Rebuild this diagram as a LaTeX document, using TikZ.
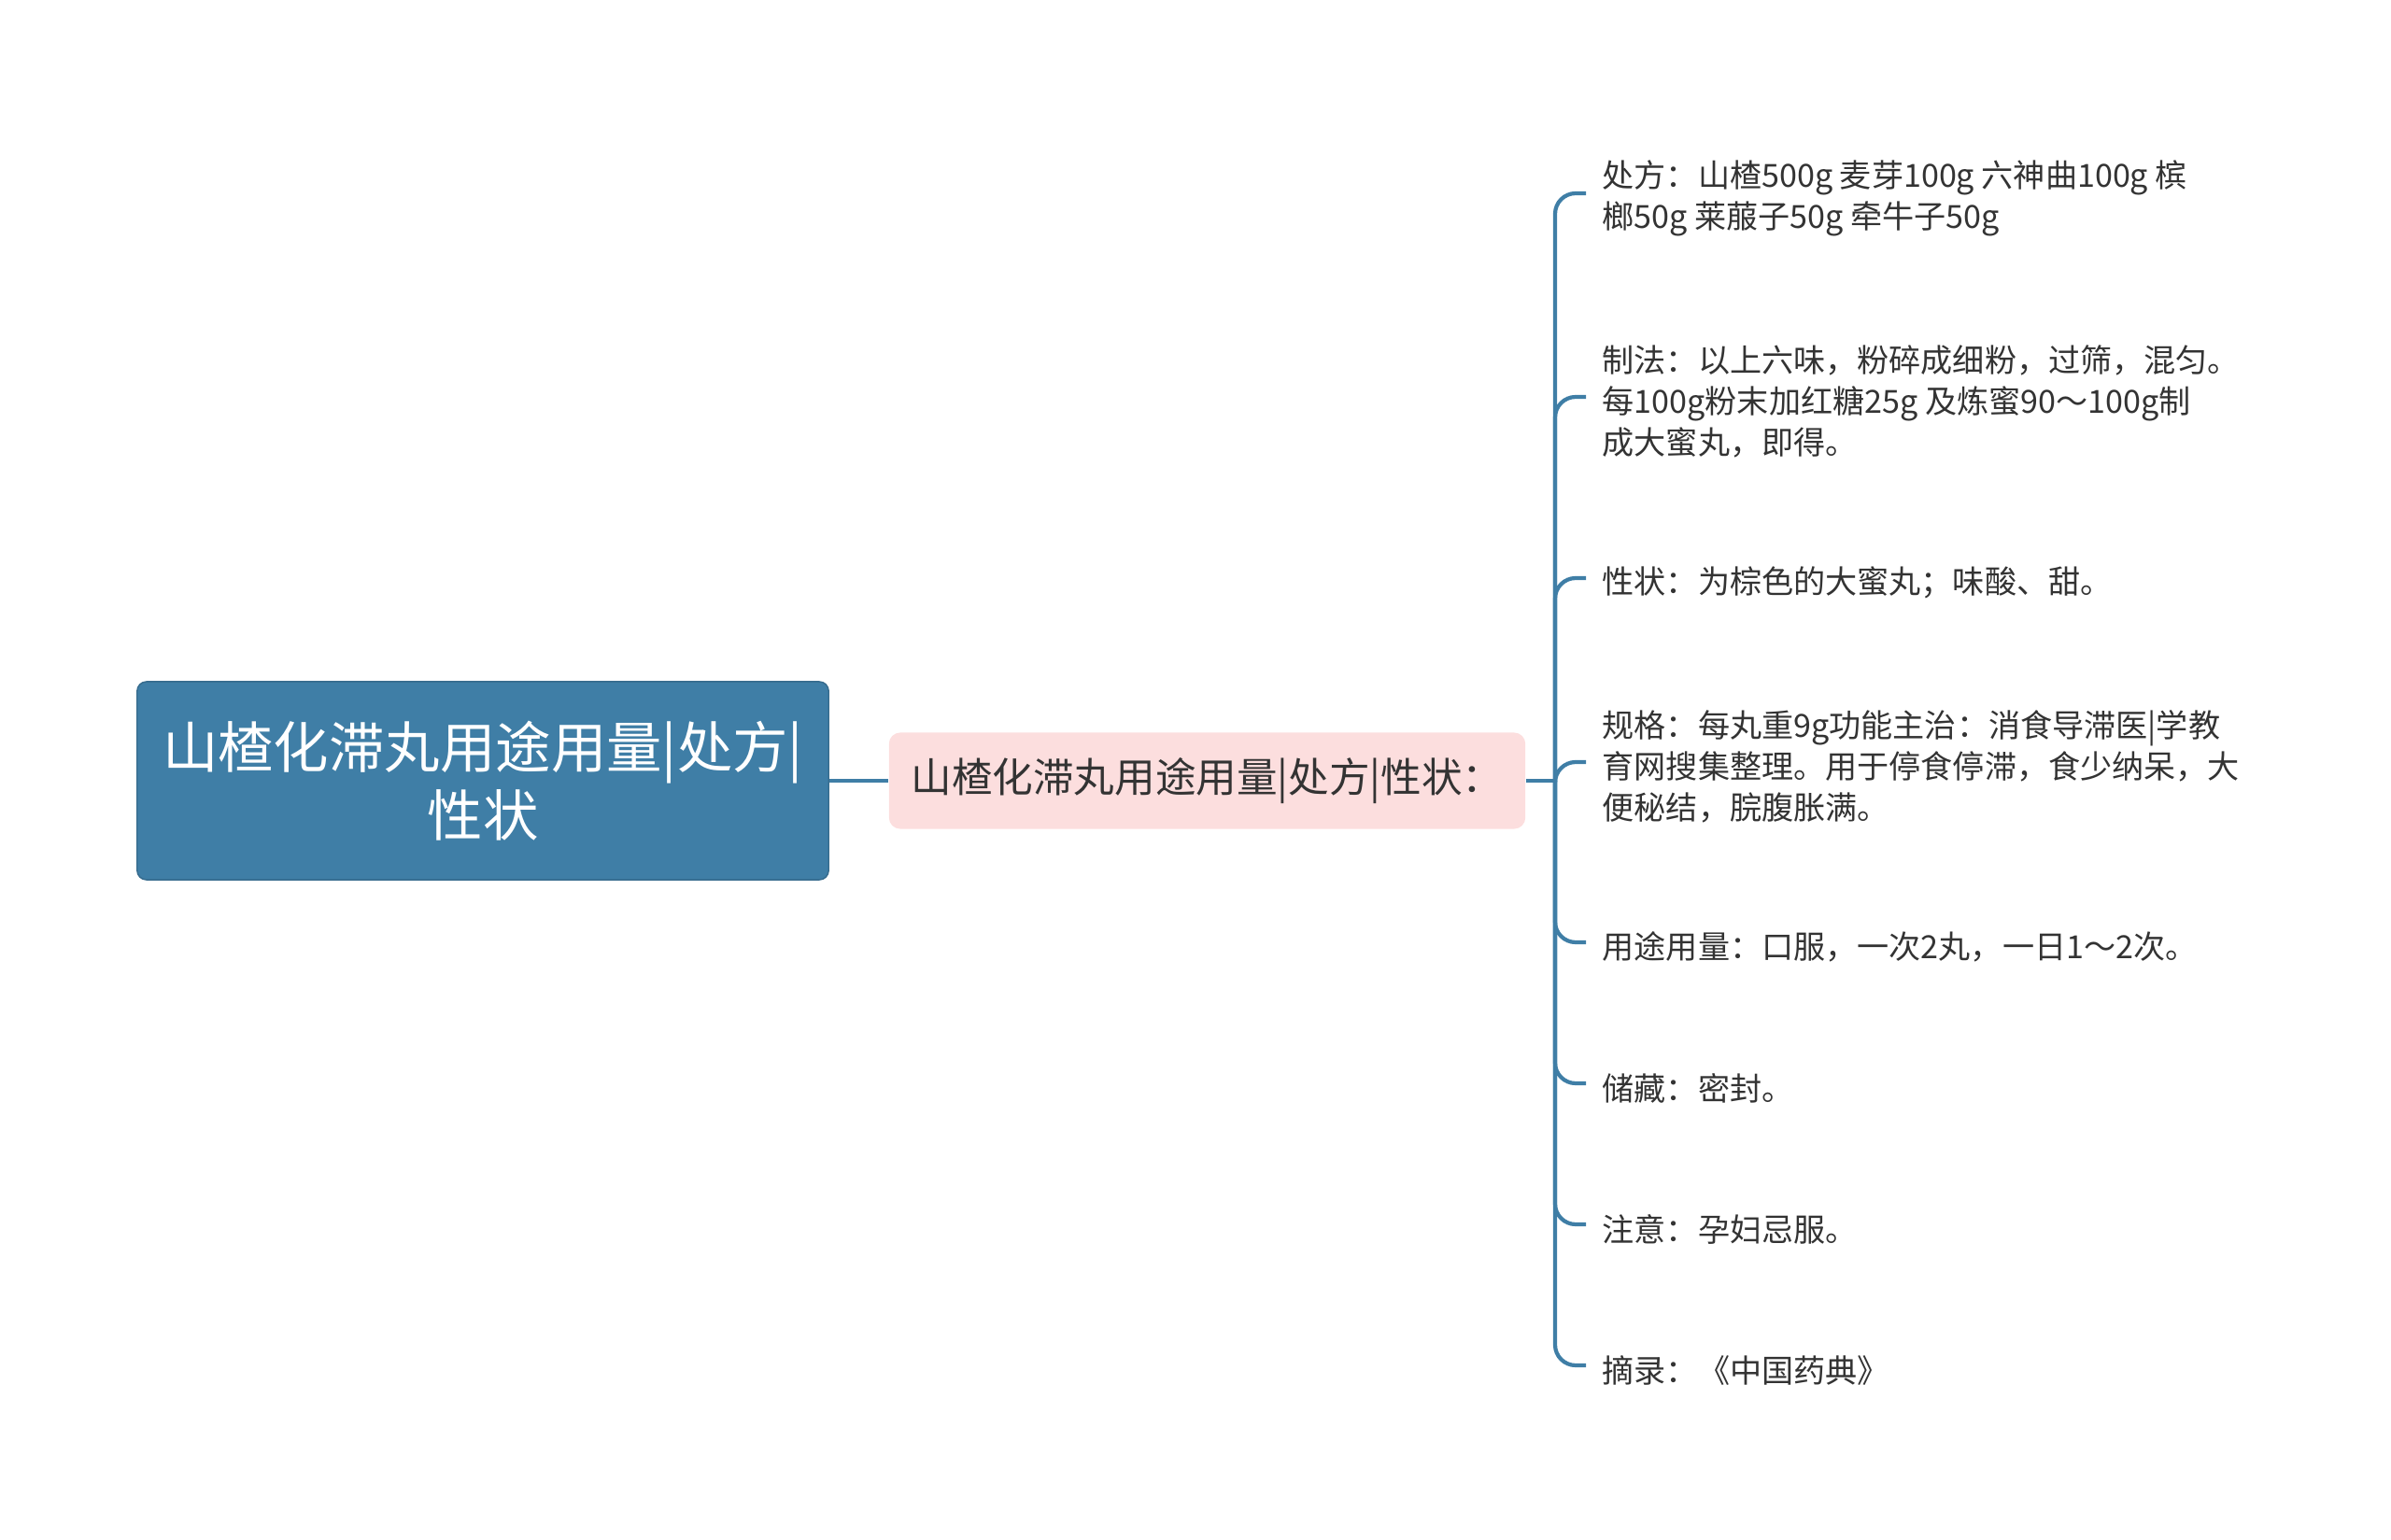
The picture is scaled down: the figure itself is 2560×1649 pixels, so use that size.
\documentclass[tikz,border=0pt]{standalone}
\usepackage{fontspec}
\setmainfont{Noto Sans CJK SC}
\usepackage{xcolor}
\usepackage{tikz}
\usetikzlibrary{
    calc,
    positioning
}
\definecolor{rootblue}{HTML}{3F7EA6}
\definecolor{linkblue}{HTML}{3F7EA6}
\definecolor{midpink}{HTML}{FCDEDE}
\definecolor{leafgray}{HTML}{333333}
\tikzset{
    % central topic box
    rootbox/.style={
        rectangle, rounded corners=0.1cm,
        fill=rootblue, draw=rootblue!85!black, line width=0.4pt,
        minimum width=7.4cm, minimum height=2.12cm, inner sep=0pt,
        text=white, align=center,
        font=\fontsize{16.9}{20.7}\selectfont
    },
    % second level box
    midbox/.style={
        rectangle, rounded corners=0.12cm,
        fill=midpink, draw=none,
        minimum width=6.81cm, minimum height=1.03cm, inner sep=0pt,
        text=leafgray, align=center,
        font=\fontsize{12.4}{14}\selectfont
    },
    % plain text leaves
    leaf/.style={
        anchor=west, inner xsep=0.17cm, inner ysep=0pt,
        text=leafgray, align=left,
        font=\fontsize{9.7}{12.5}\selectfont
    },
    link/.style={
        draw=linkblue, line width=1.2pt
    }
}
\begin{document}
\begin{tikzpicture}[x=0.01cm, y=-0.01cm]
            \useasboundingbox (0,0) rectangle (2560,1649);
            \node[rootbox] (root) at (517, 836) {山楂化滞丸用途用量|处方|\\性状};
            \node[midbox] (mid) at (1292.5, 836) {山楂化滞丸用途用量|处方|性状：};
            \coordinate (hub) at (1665, 836);
            \node[leaf] (c1) at (1698, 212) {处方：山楂500g 麦芽100g 六神曲100g 槟\\榔50g 莱菔子50g 牵牛子50g};
            \node[leaf] (c2) at (1698, 430) {制法：以上六味，粉碎成细粉，过筛，混匀。\\每100g粉末加红糖25g 及炼蜜90～100g制\\成大蜜丸，即得。};
            \node[leaf] (c3) at (1698, 624) {性状：为棕色的大蜜丸；味酸、甜。};
            \node[leaf] (c4) at (1698, 821) {规格：每丸重9g功能主治：消食导滞医|学教\\育网搜集整理。用于停食停滞，食少纳呆，大\\便秘结，脘腹胀满。};
            \node[leaf] (c5) at (1698, 1014) {用途用量：口服，一次2丸，一日1～2次。};
            \node[leaf] (c6) at (1698, 1165) {储藏：密封。};
            \node[leaf] (c7) at (1698, 1316) {注意：孕妇忌服。};
            \node[leaf] (c8) at (1698, 1467) {摘录：《中国药典》};
            \begin{scope}[link]
                \draw (root) -- (mid);
                \draw (mid) -- (hub);
                \foreach \c in {c1, c2, c3, c4, c5, c6, c7, c8} {
                    \draw[rounded corners=0.22cm] (hub) |- ([yshift=0.05cm]\c.west);
                }
            \end{scope}
        \end{tikzpicture}
\end{document}
